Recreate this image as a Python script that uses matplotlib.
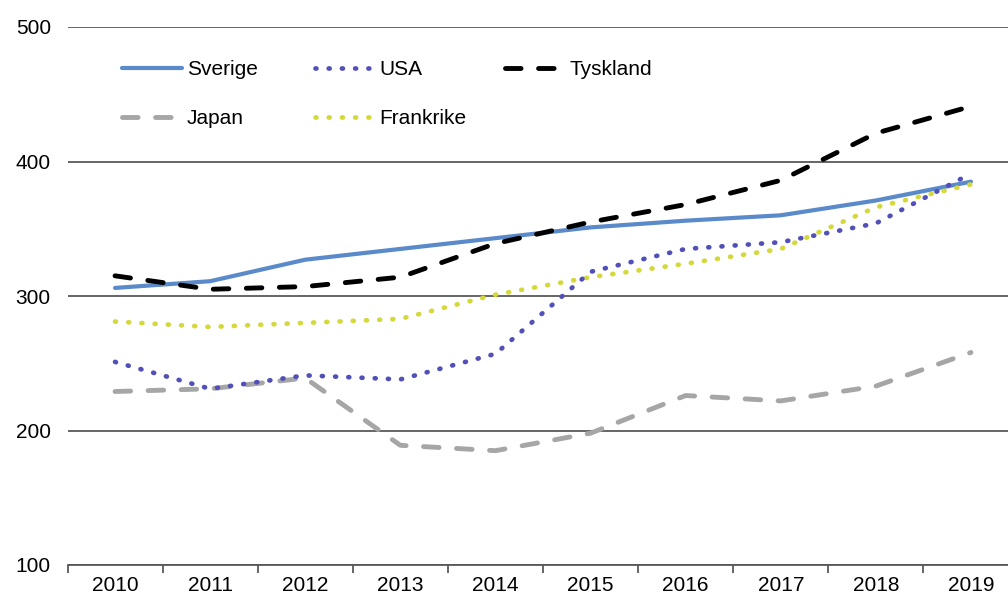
import matplotlib
matplotlib.use("Agg")
import matplotlib.pyplot as plt
import numpy as np

plt.rcParams['font.family'] = ['Liberation Sans', 'DejaVu Sans']

years = ['2010', '2011', '2012', '2013', '2014', '2015', '2016', '2017', '2018', '2019']
sverige = [306, 311, 327, 335, 343, 351, 356, 360, 371, 385]
usa = [251, 231, 241, 238, 257, 318, 335, 340, 354, 391]
tyskland = [315, 305, 307, 314, 339, 355, 368, 386, 421, 441]
japan = [229, 231, 239, 189, 185, 198, 226, 222, 233, 258]
frankrike = [281, 277, 280, 283, 301, 314, 324, 335, 366, 383]

W, H = 1008, 599
fig = plt.figure(figsize=(W / 100, H / 100), dpi=100)
ax = fig.add_axes([67.5 / W, (H - 565) / H, (1018.5 - 67.5) / W, (565 - 27) / H])

x = np.arange(len(years))
dot = (0, (0.2, 2.6))
dash = (0, (3.2, 3.6))

l1, = ax.plot(x, sverige, color='#5A8ACA', lw=3, solid_capstyle='round', zorder=3)
l2, = ax.plot(x, usa, color='#5050B8', lw=3.4, linestyle=dot, dash_capstyle='round', zorder=4)
l3, = ax.plot(x, tyskland, color='black', lw=3.5, linestyle=dash, dash_capstyle='round', zorder=3)
l4, = ax.plot(x, japan, color='#A6A6A6', lw=3.5, linestyle=dash, dash_capstyle='round', zorder=3)
l5, = ax.plot(x, frankrike, color='#D4D83A', lw=3.4, linestyle=dot, dash_capstyle='round', zorder=3)

ax.set_xlim(-0.5, len(years) - 0.5)
ax.set_ylim(100, 500)
ax.set_yticks([100, 200, 300, 400, 500])
ax.yaxis.grid(True, color='#595959', lw=1.3)
ax.set_axisbelow(True)
for s in ['top', 'right', 'left']:
    ax.spines[s].set_visible(False)
ax.spines['bottom'].set_color('#595959')
ax.spines['bottom'].set_linewidth(1.3)

ax.set_xticks(x)
ax.set_xticklabels(years)
ax.set_xticks(np.arange(-0.5, len(years)), minor=True)
ax.tick_params(axis='x', which='major', length=0, pad=8, labelsize=15)
ax.tick_params(axis='x', which='minor', length=6, width=1.3, color='#595959', direction='out')
ax.tick_params(axis='y', length=0, pad=12, labelsize=15)

# Excel-style legend: three fixed-width columns
leg_kw = dict(frameon=False, fontsize=15, handlelength=2.9, handletextpad=0.2,
              labelspacing=1.45, borderpad=0, borderaxespad=0, loc='upper left')
cols = [([l1, l4], ['Sverige', 'Japan'], 122),
        ([l2, l5], ['USA', 'Frankrike'], 315),
        ([l3], ['Tyskland'], 505)]
legends = []
for handles, labels, px in cols:
    lg = ax.legend(handles, labels, bbox_to_anchor=(px / W, (H - 60) / H),
                   bbox_transform=fig.transFigure, **leg_kw)
    legends.append(lg)
for lg in legends[:-1]:
    ax.add_artist(lg)

fig.savefig('out.png', dpi=100)
